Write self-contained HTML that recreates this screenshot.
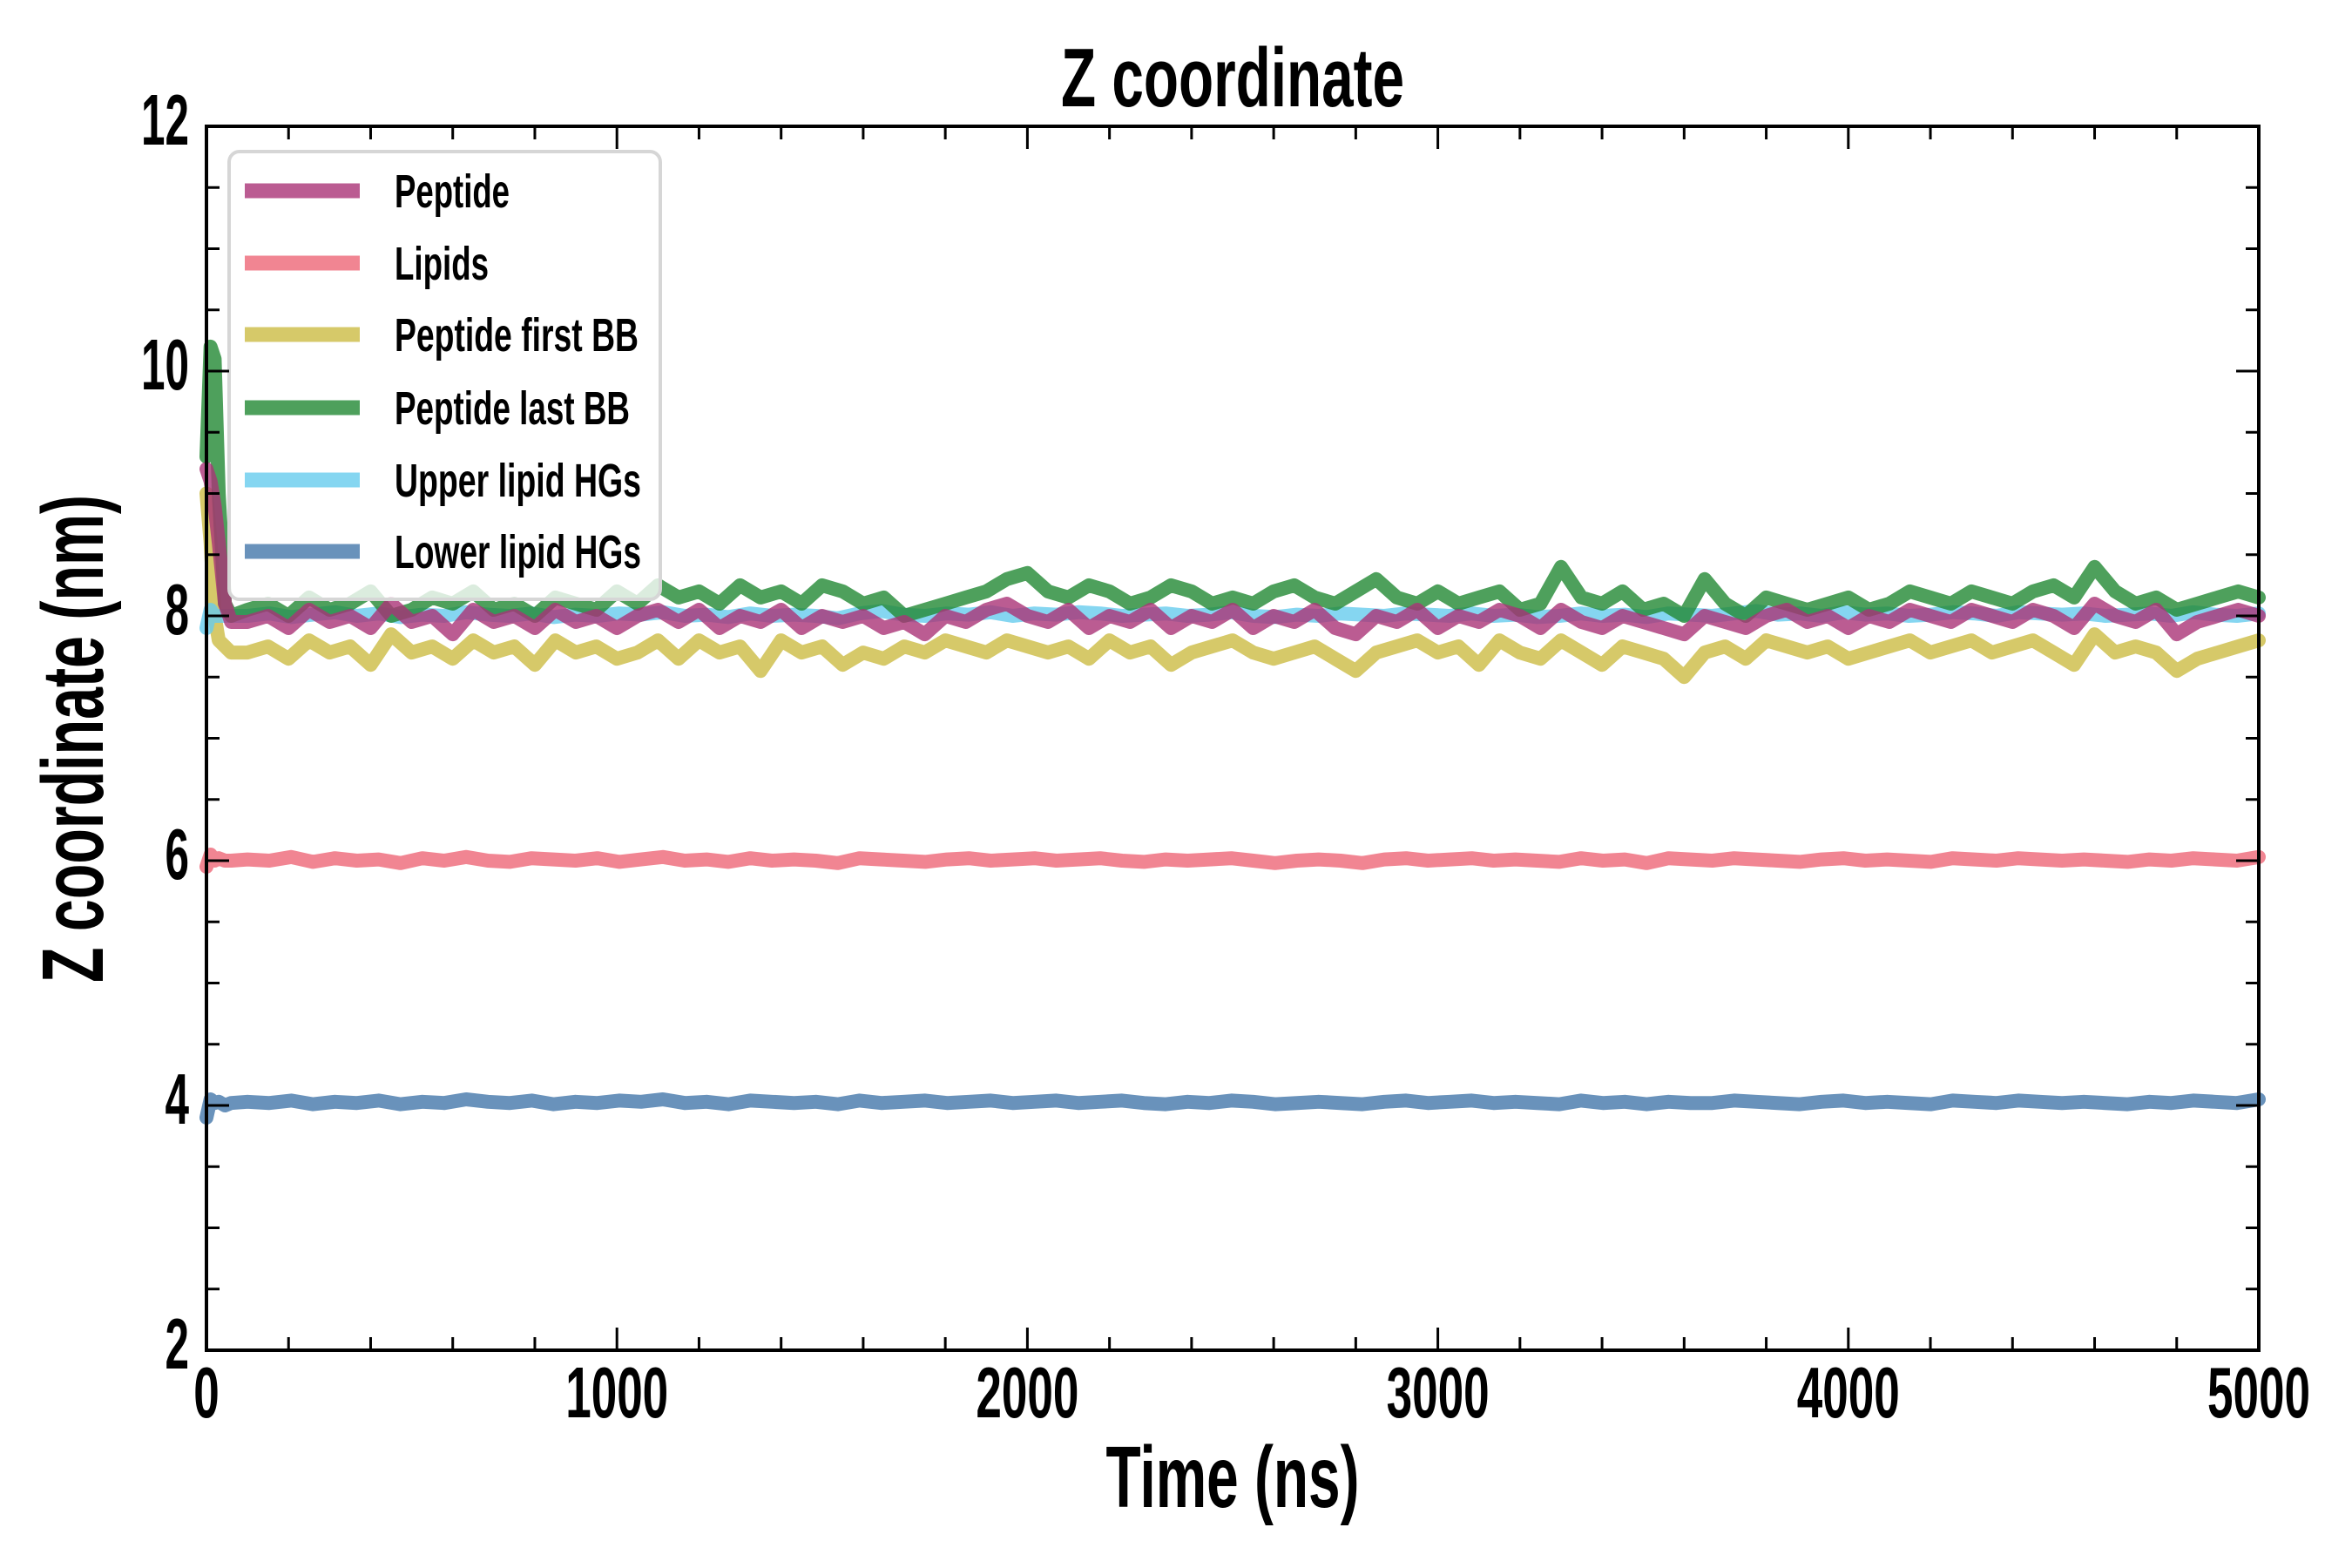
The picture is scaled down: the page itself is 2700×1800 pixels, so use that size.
<!DOCTYPE html>
<html><head><meta charset="utf-8"><style>
html,body{margin:0;padding:0;background:#fff;}
svg{display:block;}
text{font-family:"Liberation Sans Narrow","Liberation Sans",sans-serif;font-weight:bold;fill:#000;}
</style></head><body>
<svg id="chart" width="2700" height="1800" viewBox="0 0 2700 1800" xmlns="http://www.w3.org/2000/svg">
<rect width="2700" height="1800" fill="#fff"/>
<g id="series"></g>
<g id="legend"></g>
<g id="axes"></g>
</svg>
<script>
const earlyTimes = [0,10,20,30,45,60];
const xTicks = [0,1000,2000,3000,4000,5000];
const yTicks = [2,4,6,8,10,12];
const seriesNames = ["Peptide","Lipids","Peptide first BB","Peptide last BB","Upper lipid HGs","Lower lipid HGs"];
const peptideVals = [9.2,9.1,8.9,8.6,8.1,7.95,
7.95,8.0,7.9,8.05,7.95,8.0,7.9,8.1,7.95,8.0,7.85,8.05,7.95,8.0,7.9,8.05,7.95,8.0,7.9,8.0,8.05,7.95,8.05,7.9,8.0,7.95,8.05,7.9,8.0,7.95,8.0,7.9,7.95,7.85,8.0,7.95,8.05,8.1,8.0,7.95,8.05,7.9,8.0,7.95,8.05,7.9,8.0,7.95,8.05,7.9,8.0,7.95,8.05,7.9,7.85,8.0,7.95,8.05,7.9,8.0,7.95,8.05,8.0,7.9,8.05,7.95,7.9,8.0,7.95,7.9,7.85,8.0,7.95,7.9,8.0,8.05,7.95,8.0,7.9,8.0,7.95,8.05,8.0,7.95,8.05,8.0,7.95,8.05,8.0,7.9,8.1,8.0,7.95,8.05,7.85,7.95,8.0,8.05,8.0];
const lipidsVals = [5.95,6.05,6.0,6.02,6.0,6.0,
6.01,6.0,6.03,5.99,6.02,6.0,6.01,5.98,6.02,6.0,6.03,6.0,5.99,6.02,6.01,6.0,6.02,5.99,6.01,6.03,6.0,6.01,5.99,6.02,6.0,6.01,6.0,5.98,6.02,6.01,6.0,5.99,6.01,6.02,6.0,6.01,6.02,6.0,6.01,6.02,6.0,5.99,6.01,6.0,6.01,6.02,6.0,5.98,6.0,6.01,6.0,5.98,6.01,6.02,6.0,6.01,6.02,6.0,6.01,6.0,5.99,6.02,6.0,6.01,5.98,6.02,6.01,6.0,6.02,6.01,6.0,5.99,6.01,6.02,6.0,6.01,6.0,5.99,6.02,6.01,6.0,6.02,6.01,6.0,6.01,6.0,5.99,6.01,6.0,6.02,6.01,6.0,6.03];
const firstBBVals = [9.0,8.6,8.0,7.8,7.75,7.7,
7.7,7.75,7.65,7.8,7.7,7.75,7.6,7.85,7.7,7.75,7.65,7.8,7.7,7.75,7.6,7.8,7.7,7.75,7.65,7.7,7.8,7.65,7.8,7.7,7.75,7.55,7.8,7.7,7.75,7.6,7.7,7.65,7.75,7.7,7.8,7.75,7.7,7.8,7.75,7.7,7.75,7.65,7.8,7.7,7.75,7.6,7.7,7.75,7.8,7.7,7.65,7.7,7.75,7.65,7.55,7.7,7.75,7.8,7.7,7.75,7.6,7.8,7.7,7.65,7.8,7.7,7.6,7.75,7.7,7.65,7.5,7.7,7.75,7.65,7.8,7.75,7.7,7.75,7.65,7.7,7.75,7.8,7.7,7.75,7.8,7.7,7.75,7.8,7.7,7.6,7.85,7.7,7.75,7.7,7.55,7.65,7.7,7.75,7.8];
const lastBBVals = [9.3,10.2,10.1,9.0,8.1,8.0,
8.05,8.1,8.0,8.15,8.05,8.1,8.2,8.0,8.05,8.15,8.1,8.2,8.05,8.1,8.0,8.15,8.1,8.05,8.2,8.1,8.25,8.15,8.2,8.1,8.25,8.15,8.2,8.1,8.25,8.2,8.1,8.15,8.0,8.05,8.1,8.15,8.2,8.3,8.35,8.2,8.15,8.25,8.2,8.1,8.15,8.25,8.2,8.1,8.15,8.1,8.2,8.25,8.15,8.1,8.2,8.3,8.15,8.1,8.2,8.1,8.15,8.2,8.05,8.1,8.4,8.15,8.1,8.2,8.05,8.1,8.0,8.3,8.1,8.0,8.15,8.1,8.05,8.1,8.15,8.05,8.1,8.2,8.15,8.1,8.2,8.15,8.1,8.2,8.25,8.15,8.4,8.2,8.1,8.15,8.05,8.1,8.15,8.2,8.15];
const upperVals = [7.9,8.05,8.0,8.0,8.0,8.0,
8.0,8.02,7.99,8.01,8.03,8.0,8.02,7.99,8.01,8.0,8.03,8.01,8.0,8.02,7.99,8.01,8.0,8.02,8.01,8.03,8.0,8.01,7.99,8.02,8.0,8.01,8.0,7.98,8.02,8.04,8.01,8.0,8.02,8.01,8.03,8.0,8.02,8.01,8.03,8.02,8.0,8.01,8.02,8.0,8.01,8.03,8.0,7.99,8.01,8.0,8.02,8.01,8.0,8.02,8.01,8.0,8.02,8.0,8.01,7.99,8.0,8.02,8.0,8.01,7.99,8.02,8.01,8.0,8.02,8.04,8.01,8.02,8.0,8.03,8.01,8.02,8.0,8.01,8.03,8.02,8.0,8.03,8.02,8.01,8.02,8.0,8.01,8.02,8.0,8.03,8.01,8.0,8.02];
const lowerVals = [3.9,4.05,4.02,4.03,4.0,4.02,
4.03,4.02,4.04,4.01,4.03,4.02,4.04,4.01,4.03,4.02,4.05,4.03,4.02,4.04,4.01,4.03,4.02,4.04,4.03,4.05,4.02,4.03,4.01,4.04,4.03,4.02,4.03,4.01,4.04,4.02,4.03,4.04,4.02,4.03,4.04,4.02,4.03,4.04,4.02,4.03,4.04,4.02,4.01,4.03,4.02,4.04,4.03,4.01,4.02,4.03,4.02,4.01,4.03,4.04,4.02,4.03,4.04,4.02,4.03,4.02,4.01,4.04,4.02,4.03,4.01,4.03,4.02,4.02,4.04,4.03,4.02,4.01,4.03,4.04,4.02,4.03,4.02,4.01,4.04,4.03,4.02,4.04,4.03,4.02,4.03,4.02,4.01,4.03,4.02,4.04,4.03,4.02,4.05];

const NS="http://www.w3.org/2000/svg";
const L=237,R=2593,T=145,B=1550;
const X0=0,X1=5000,Y0=2,Y1=12;
function sx(v){return L+(v-X0)/(X1-X0)*(R-L);}
function sy(v){return B-(v-Y0)/(Y1-Y0)*(B-T);}
function el(tag,attrs,parent){const e=document.createElementNS(NS,tag);for(const k in attrs)e.setAttribute(k,attrs[k]);parent.appendChild(e);return e;}
function timesFor(n){const t=earlyTimes.slice();const m=n-earlyTimes.length;for(let i=0;i<m;i++)t.push(100+i*4900/(m-1));return t;}

const seriesG=document.getElementById('series');
const colors={"Peptide":"#aa3377","Lipids":"#ee6677","Peptide first BB":"#ccbb44","Peptide last BB":"#228833","Upper lipid HGs":"#66ccee","Lower lipid HGs":"#4477aa"};
const dataMap={"Peptide":peptideVals,"Lipids":lipidsVals,"Peptide first BB":firstBBVals,"Peptide last BB":lastBBVals,"Upper lipid HGs":upperVals,"Lower lipid HGs":lowerVals};
const drawOrder=["Lipids","Lower lipid HGs","Peptide first BB","Upper lipid HGs","Peptide last BB","Peptide"];
drawOrder.forEach(name=>{
  const vals=dataMap[name];const ts=timesFor(vals.length);
  const d=vals.map((v,i)=>(i?'L':'M')+sx(ts[i]).toFixed(1)+','+sy(v).toFixed(1)).join('');
  const p=el('path',{d:d,fill:'none',stroke:colors[name],'stroke-width':16,'stroke-opacity':0.8,'stroke-linejoin':'round','stroke-linecap':'round'},seriesG);
  
  
});

// legend
const legG=document.getElementById('legend');


el('rect',{x:263,y:174,width:495,height:514,rx:12,fill:'#fff','fill-opacity':0.8,stroke:'#d6d6d6','stroke-width':4},legG);
const legY=[219,302,384,468,551,633];
const legW=[132,108,280,270,283,283];
seriesNames.forEach((name,i)=>{
  const g=el('g',{},legG);
  
  
  el('line',{x1:281,x2:413,y1:legY[i],y2:legY[i],stroke:colors[name],'stroke-opacity':0.8,'stroke-width':17},g);
  const t=el('text',{x:453,y:legY[i]+19,'font-size':54,textLength:legW[i],lengthAdjust:'spacingAndGlyphs'},g);
  t.textContent=name;
});

// axes
const ax=document.getElementById('axes');
el('rect',{x:L,y:T,width:R-L,height:B-T,fill:'none',stroke:'#000','stroke-width':4},ax);
for(let v=0;v<=5000;v+=200){
  const major=v%1000===0;const len=major?26:15;const x=sx(v);
  el('line',{x1:x,x2:x,y1:B,y2:B-len,stroke:'#000','stroke-width':3},ax);
  el('line',{x1:x,x2:x,y1:T,y2:T+len,stroke:'#000','stroke-width':3},ax);
}
for(let v=2;v<=12.001;v+=0.5){
  const major=Math.abs(v-Math.round(v/2)*2)<1e-6;const len=major?26:15;const y=sy(v);
  el('line',{x1:L,x2:L+len,y1:y,y2:y,stroke:'#000','stroke-width':3},ax);
  el('line',{x1:R,x2:R-len,y1:y,y2:y,stroke:'#000','stroke-width':3},ax);
}
xTicks.forEach(v=>{
  const s=String(v);
  const t=el('text',{x:sx(v),y:1627,'font-size':83,'text-anchor':'middle',textLength:s.length*29.5,lengthAdjust:'spacingAndGlyphs'},ax);
  
  
  t.textContent=s;
});
yTicks.forEach(v=>{
  const s=String(v);
  const t=el('text',{x:217,y:sy(v)+21,'font-size':83,'text-anchor':'end',textLength:s.length*27.5,lengthAdjust:'spacingAndGlyphs'},ax);
  
  
  t.textContent=s;
});
let tt=el('text',{x:1415,y:122,'font-size':96,'text-anchor':'middle',textLength:394,lengthAdjust:'spacingAndGlyphs'},ax);


tt.textContent='Z coordinate';
let xl=el('text',{x:1415,y:1730,'font-size':100,'text-anchor':'middle',textLength:291,lengthAdjust:'spacingAndGlyphs'},ax);


xl.textContent='Time (ns)';
let yl=el('text',{x:0,y:0,'font-size':100,'text-anchor':'middle',textLength:560,lengthAdjust:'spacingAndGlyphs',transform:'translate(118,848) rotate(-90)'},ax);


yl.textContent='Z coordinate (nm)';
</script>
</body></html>
